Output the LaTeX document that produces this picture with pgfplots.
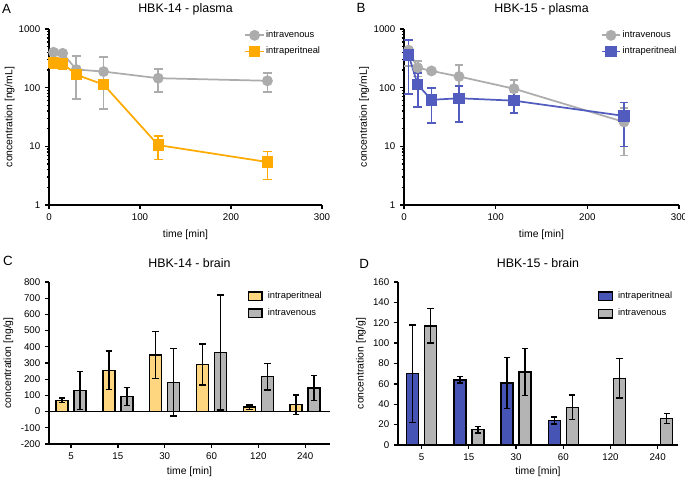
\documentclass[border=0pt]{standalone}
\usepackage{fontspec}
\setmainfont{Liberation Sans}
\usepackage{pgfplots}
\pgfplotsset{compat=1.18}

\definecolor{ivgrey}{RGB}{172,172,172}
\definecolor{iporange}{RGB}{255,170,0}
\definecolor{ipblue}{RGB}{82,92,190}
\definecolor{baryellow}{RGB}{255,214,128}
\definecolor{bargrey}{RGB}{180,180,180}
\definecolor{barblue}{RGB}{70,84,182}

% 1 px of the reference = 0.75pt
\pgfplotsset{
  every axis title/.style={at={(0.5,1)}, anchor=center,
    font=\fontsize{9.3}{11}\selectfont},
  every axis/.append style={
    scale only axis, clip=false,
    axis x line*=bottom, axis y line*=left,
    axis line style={line width=1.3pt, -},
    tick align=outside,
    major tick length=3pt, minor tick length=1.8pt,
    every tick/.append style={black, line width=1pt},
    tick label style={font=\fontsize{7.3}{8}\selectfont},
    label style={font=\fontsize{7.8}{9}\selectfont},
    legend style={draw=none, fill=none, anchor=north west,
      font=\fontsize{7}{8}\selectfont, row sep=3.5pt,
      nodes={inner sep=1pt}},
    legend cell align=left,
  },
}

\begin{document}
\begin{tikzpicture}
\useasboundingbox (0,0) rectangle (513.75pt,358.5pt);

% A: HBK-14 plasma
\begin{axis}[at={(36.75pt,204.75pt)}, anchor=south west, width=204.75pt, height=132pt,
  ymode=log, ymin=1, ymax=1000, xmin=0, xmax=300,
  xtick={0,100,200,300}, xticklabels={0,100,200,300},
  ytick={1,10,100,1000}, yticklabels={1,10,100,1000},
  xlabel={time [min]}, ylabel={concentration [ng/mL]},
  xlabel style={at={(axis description cs:0.5,-0.17)}, anchor=center},
  ylabel style={at={(axis description cs:-0.144,0.5)}, anchor=center},
  title style={at={(axis description cs:0.5,1.111)}},
  title={HBK-14 - plasma},
  legend image code/.code={\draw[mark repeat=2,mark phase=2,#1]
      plot coordinates {(0pt,0pt) (7pt,0pt) (14pt,0pt)};},
  legend style={at={(axis description cs:0.70,1.013)}}]
\addplot[ivgrey, line width=1.3pt, mark=*, mark size=3.4pt,
    mark options={solid, fill=ivgrey, draw=ivgrey},
    error bars/y dir=both, error bars/y explicit,
    error bars/error bar style={ivgrey, line width=1.2pt},
    error bars/error mark options={rotate=90, ivgrey, mark size=3.3pt, line width=1.2pt}]
  coordinates {
  (5,401) +- (0,20) (15,385) +- (0,20) (30,204) +- (0,140)
  (60,188) +- (0,145) (120,145) +- (0,61) (240,131) +- (0,46)};
\addplot[iporange, line width=1.3pt, mark=square*, mark size=3.6pt,
    mark options={solid, fill=iporange, draw=iporange},
    error bars/y dir=both, error bars/y explicit,
    error bars/error bar style={iporange, line width=1.2pt},
    error bars/error mark options={rotate=90, iporange, mark size=3.3pt, line width=1.2pt}]
  coordinates {
  (5,266) +- (0,50) (15,260) +- (0,55) (30,166) +- (0,10)
  (60,113) +- (0,8) (120,10.5) +- (0,4.5) (240,5.4) +- (0,2.7)};
\legend{intravenous,intraperitneal}
\node[font=\fontsize{10}{12}\selectfont] at (axis description cs:-0.155,1.116) {A};
\end{axis}

% B: HBK-15 plasma
\begin{axis}[at={(303pt,204.75pt)}, anchor=south west, width=206.25pt, height=132pt,
  ymode=log, ymin=1, ymax=1000, xmin=0, xmax=300,
  xtick={0,100,200,300}, xticklabels={0,100,200,300},
  ytick={1,10,100,1000}, yticklabels={1,10,100,1000},
  xlabel={time [min]}, ylabel={concentration [ng/mL]},
  xlabel style={at={(axis description cs:0.5,-0.17)}, anchor=center},
  ylabel style={at={(axis description cs:-0.145,0.5)}, anchor=center},
  title style={at={(axis description cs:0.5,1.111)}},
  title={HBK-15 - plasma},
  legend image code/.code={\draw[mark repeat=2,mark phase=2,#1]
      plot coordinates {(0pt,0pt) (7pt,0pt) (14pt,0pt)};},
  legend style={at={(axis description cs:0.70,1.013)}}]
\addplot[ivgrey, line width=1.3pt, mark=*, mark size=3.4pt,
    mark options={solid, fill=ivgrey, draw=ivgrey},
    error bars/y dir=both, error bars/y explicit,
    error bars/error bar style={ivgrey, line width=1.2pt},
    error bars/error mark options={rotate=90, ivgrey, mark size=3.3pt, line width=1.2pt}]
  coordinates {
  (5,435) +- (0,200) (15,219) +- (0,63) (30,193) +- (0,12)
  (60,155) +- (0,86) (120,96) +- (0,40) (240,26) +- (0,19)};
\addplot[ipblue, line width=1.3pt, mark=square*, mark size=3.6pt,
    mark options={solid, fill=ipblue, draw=ipblue},
    error bars/y dir=both, error bars/y explicit,
    error bars/error bar style={ipblue, line width=1.2pt},
    error bars/error mark options={rotate=90, ipblue, mark size=3.3pt, line width=1.2pt}]
  coordinates {
  (5,360) +- (0,282) (15,112) +- (0,65) (30,62) +- (0,37)
  (60,66) +- (0,40) (120,60) +- (0,23) (240,33) +- (0,23)};
\legend{intravenous,intraperitneal}
\node[font=\fontsize{10}{12}\selectfont] at (axis description cs:-0.156,1.119) {B};
\end{axis}

% C: HBK-14 brain
\begin{axis}[at={(36.75pt,25.5pt)}, anchor=south west, width=210.75pt, height=121.5pt,
  ybar=4.5pt, bar width=9pt,
  xmin=-0.47, xmax=5.53, ymin=-200, ymax=800,
  xtick={0,1,2,3,4,5}, xticklabels={5,15,30,60,120,240},
  ytick={-200,-100,0,100,200,300,400,500,600,700,800},
  yticklabels={-200,-100,0,100,200,300,400,500,600,700,800},
  extra y ticks={0}, extra y tick labels={},
  extra y tick style={grid=major, major grid style={black, line width=1.3pt}},
  xlabel={time [min]}, ylabel={concentration [ng/g]},
  xlabel style={at={(axis description cs:0.5,-0.17)}, anchor=center},
  ylabel style={at={(axis description cs:-0.144,0.5)}, anchor=center},
  title style={at={(axis description cs:0.5,1.115)}},
  title={HBK-14 - brain},
  legend image code/.code={\draw[#1, line width=0.9pt] (0pt,-3.3pt) rectangle (10pt,3.3pt);},
  legend style={at={(axis description cs:0.693,0.965)}, row sep=4.3pt, column sep=3pt}]
\addplot[fill=baryellow, draw=black, line width=1.1pt,
    error bars/y dir=both, error bars/y explicit,
    error bars/error bar style={black, line width=1.1pt},
    error bars/error mark options={rotate=90, black, mark size=2.4pt, line width=1.1pt}]
  coordinates {
  (0,70) +- (0,15) (1,255) +- (0,120) (2,350) +- (0,146)
  (3,290) +- (0,126) (4,28) +- (0,14) (5,43) +- (0,60)};
\addplot[fill=bargrey, draw=black, line width=1.1pt,
    error bars/y dir=both, error bars/y explicit,
    error bars/error bar style={black, line width=1.1pt},
    error bars/error mark options={rotate=90, black, mark size=2.4pt, line width=1.1pt}]
  coordinates {
  (0,130) +- (0,118) (1,93) +- (0,57) (2,180) +- (0,208)
  (3,365) +- (0,355) (4,215) +- (0,82) (5,146) +- (0,76)};
\legend{intraperitneal,intravenous}
\node[font=\fontsize{10}{12}\selectfont] at (axis description cs:-0.146,1.133) {C};
\end{axis}

% D: HBK-15 brain
\begin{axis}[at={(298.5pt,24.75pt)}, anchor=south west, width=210pt, height=122.25pt,
  ybar=4.5pt, bar width=9pt,
  xmin=-0.5, xmax=5.43, ymin=0, ymax=160,
  xtick={0,1,2,3,4,5}, xticklabels={5,15,30,60,120,240},
  ytick={0,20,40,60,80,100,120,140,160},
  yticklabels={0,20,40,60,80,100,120,140,160},
  xlabel={time [min]}, ylabel={concentration [ng/g]},
  xlabel style={at={(axis description cs:0.5,-0.166)}, anchor=center},
  ylabel style={at={(axis description cs:-0.132,0.5)}, anchor=center},
  title style={at={(axis description cs:0.5,1.117)}},
  title={HBK-15 - brain},
  legend image code/.code={\draw[#1, line width=0.9pt] (0pt,-3.3pt) rectangle (10pt,3.3pt);},
  legend style={at={(axis description cs:0.70,0.965)}, row sep=4.3pt, column sep=3pt}]
\addplot[fill=barblue, draw=black, line width=1.1pt,
    error bars/y dir=both, error bars/y explicit,
    error bars/error bar style={black, line width=1.1pt},
    error bars/error mark options={rotate=90, black, mark size=2.4pt, line width=1.1pt}]
  coordinates {
  (0,70) +- (0,48) (1,64) +- (0,3) (2,61) +- (0,25) (3,24) +- (0,3.5)};
\addplot[fill=bargrey, draw=black, line width=1.1pt,
    error bars/y dir=both, error bars/y explicit,
    error bars/error bar style={black, line width=1.1pt},
    error bars/error mark options={rotate=90, black, mark size=2.4pt, line width=1.1pt}]
  coordinates {
  (0,117) +- (0,17) (1,15) +- (0,3.3) (2,71.5) +- (0,23)
  (3,37) +- (0,12) (4,65.5) +- (0,19.5) (5,26) +- (0,4.8)};
\legend{intraperitneal,intravenous}
\node[font=\fontsize{10}{12}\selectfont] at (axis description cs:-0.121,1.11) {D};
\end{axis}
\end{tikzpicture}
\end{document}
